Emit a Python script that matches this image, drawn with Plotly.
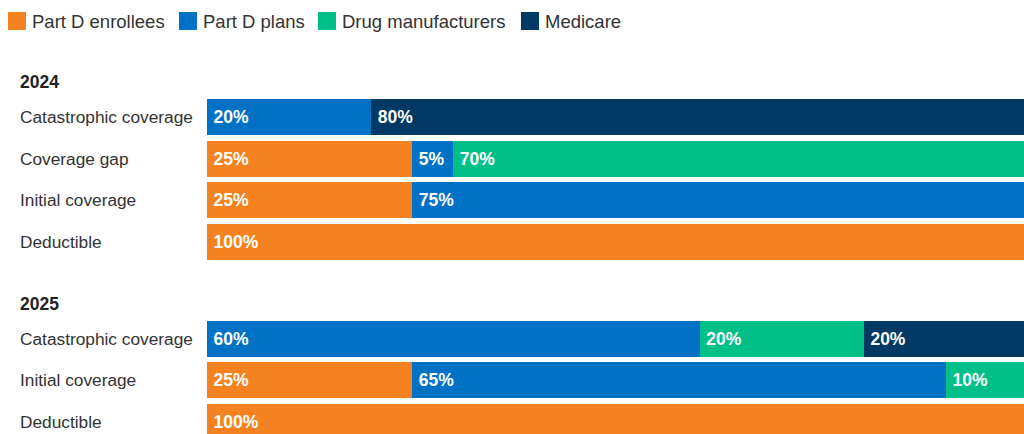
import plotly.graph_objects as go

W, H = 1024, 434

# ---- data ----
series = ["Part D enrollees", "Part D plans", "Drug manufacturers", "Medicare"]
colors = ["#F58220", "#0072C6", "#00BF87", "#003963"]

years = ["2024", "2025"]
phases_2024 = ["Catastrophic coverage", "Coverage gap", "Initial coverage", "Deductible"]
phases_2025 = ["Catastrophic coverage", "Initial coverage", "Deductible"]

# share of costs (%) paid by each party, rows in the order of the phases above
enrollees_2024 = [None, 25, 25, 100]
plans_2024 = [20, 5, 75, None]
manufacturers_2024 = [None, 70, None, None]
medicare_2024 = [80, None, None, None]

enrollees_2025 = [None, 25, 100]
plans_2025 = [60, 65, None]
manufacturers_2025 = [20, 10, None]
medicare_2025 = [20, None, None]

# ---- layout constants (pixels) ----
FONT = "Arial, 'Liberation Sans', sans-serif"
FIRST_ROW = {"2024": 117.0, "2025": 338.7}
PITCH = 41.6
BAR_H = 36
HEADER_UP = 35
X_LEFT = 207
X_MAX = 99.5          # visible part of the 0-100 scale (bars run slightly off the right edge)
LABEL_X = 19
LEGEND_X = [8, 179, 318, 521]
SW = 18
LEGEND_Y0, LEGEND_Y1 = 12, 30

phases = {"2024": phases_2024, "2025": phases_2025}
ys = {yr: [FIRST_ROW[yr] + i * PITCH for i in range(len(phases[yr]))] for yr in years}
y_all = ys["2024"] + ys["2025"]

values = [
    enrollees_2024 + enrollees_2025,
    plans_2024 + plans_2025,
    manufacturers_2024 + manufacturers_2025,
    medicare_2024 + medicare_2025,
]

fig = go.Figure()
for name, color, vals in zip(series, colors, values):
    fig.add_trace(go.Bar(
        name=name, x=vals, y=y_all, orientation="h", width=BAR_H,
        marker=dict(color=color, line=dict(width=0)),
        texttemplate="\u2009<b>%{x}%</b>", textposition="inside", insidetextanchor="start",
        textangle=0, constraintext="none",
        textfont=dict(color="white", size=17.5, family=FONT),
        showlegend=False, hoverinfo="skip", cliponaxis=True,
    ))

annotations = []
shapes = []
for yr in years:
    annotations.append(dict(
        xref="paper", yref="y", x=LABEL_X / W, y=FIRST_ROW[yr] - HEADER_UP,
        xanchor="left", yanchor="middle", text=f"<b>{yr}</b>", showarrow=False,
        borderpad=0, font=dict(size=17.5, color="#222222", family=FONT),
    ))
    for label, yc in zip(phases[yr], ys[yr]):
        annotations.append(dict(
            xref="paper", yref="y", x=LABEL_X / W, y=yc,
            xanchor="left", yanchor="middle", text=label, showarrow=False,
            borderpad=0, font=dict(size=17.3, color="#333333", family=FONT),
        ))

for name, color, lx in zip(series, colors, LEGEND_X):
    shapes.append(dict(
        type="rect", xref="paper", yref="y",
        x0=lx / W, x1=(lx + SW) / W, y0=LEGEND_Y0, y1=LEGEND_Y1,
        fillcolor=color, line=dict(width=0),
    ))
    annotations.append(dict(
        xref="paper", yref="y", x=(lx + SW + 5) / W, y=(LEGEND_Y0 + LEGEND_Y1) / 2,
        xanchor="left", yanchor="middle", text=name, showarrow=False,
        borderpad=0, font=dict(size=18.5, color="#333333", family=FONT),
    ))

fig.update_layout(
    width=W, height=H, barmode="stack",
    margin=dict(l=0, r=0, t=0, b=0, pad=0),
    paper_bgcolor="white", plot_bgcolor="white",
    xaxis=dict(range=[0, X_MAX], domain=[X_LEFT / W, 1], visible=False, fixedrange=True),
    yaxis=dict(range=[H, 0], domain=[0, 1], visible=False, fixedrange=True),
    annotations=annotations, shapes=shapes,
    showlegend=False,
)

fig.write_html("out.html", config={"displayModeBar": False})
